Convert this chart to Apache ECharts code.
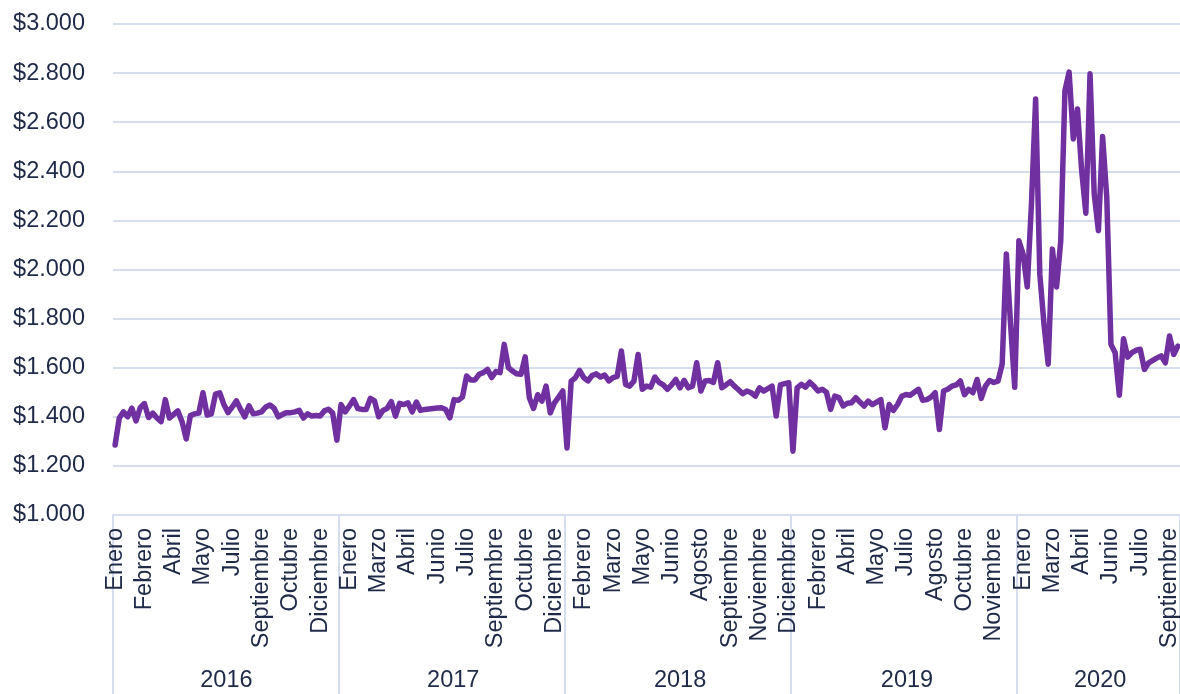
<!DOCTYPE html>
<html>
<head>
<meta charset="utf-8"/>
<title>Precio semanal</title>
<script src="https://cdn.jsdelivr.net/npm/echarts@6/dist/echarts.min.js"></script>
<style>
	* { padding: 0; margin: 0; }
	body { background: #fff; }
	#chart { width: 1180px; height: 694px; }
</style>
</head>
<body>
<div id="chart"></div>
<script>
// weekly values, one array per year
var v2016 = [1285,1395,1420,1400,1435,1383,1437,1454,1397,1415,
	1395,1380,1470,1395,1410,1424,1380,1310,1405,1412,
	1415,1498,1407,1412,1492,1498,1450,1417,1440,1465,
	1430,1400,1445,1412,1415,1420,1440,1448,1435,1400,
	1410,1417,1417,1420,1426,1395,1412,1403,1405,1403,
	1424,1431,1415,1305];
var v2017 = [1450,1420,1444,1470,1434,1430,1430,1475,1465,1400,
	1426,1434,1462,1403,1455,1450,1457,1420,1460,1426,
	1430,1432,1434,1436,1437,1430,1396,1470,1467,1480,
	1566,1550,1550,1573,1580,1593,1560,1584,1580,1695,
	1600,1586,1575,1573,1644,1478,1434,1490,1464,1525,
	1416,1457,1480,1505];
var v2018 = [1273,1545,1559,1589,1560,1546,1568,1575,1562,1570,
	1546,1560,1565,1668,1532,1525,1546,1654,1512,1525,
	1521,1562,1540,1530,1512,1530,1552,1518,1548,1518,
	1525,1620,1505,1546,1548,1540,1620,1518,1530,1543,
	1525,1510,1494,1505,1498,1484,1518,1505,1515,1525,
	1403,1530,1535,1539];
var v2019 = [1260,1518,1532,1521,1541,1525,1505,1512,1500,1430,
	1484,1478,1444,1455,1457,1478,1460,1444,1464,1450,
	1460,1470,1355,1450,1426,1450,1484,1491,1488,1500,
	1512,1467,1470,1480,1498,1348,1505,1512,1525,1530,
	1546,1490,1512,1498,1552,1475,1525,1548,1540,1545,
	1614,2063,1780,1520];
var v2020 = [2117,2063,1929,2267,2695,1981,1777,1614,2083,1929,
	2117,2729,2804,2532,2654,2403,2229,2797,2307,2158,
	2542,2294,1695,1661,1488,1718,1643,1661,1671,1675,
	1593,1620,1630,1640,1648,1620,1729,1654,1688];

var years = ['2016', '2017', '2018', '2019', '2020'];
// month shown under every 7th week
var monthLabels = ['Enero','Febrero','Abril','Mayo','Julio','Septiembre','Octubre','Diciembre',
	'Enero','Marzo','Abril','Junio','Julio','Septiembre','Octubre','Diciembre',
	'Febrero','Marzo','Mayo','Junio','Agosto','Septiembre','Noviembre','Diciembre',
	'Febrero','Abril','Mayo','Julio','Agosto','Octubre','Noviembre',
	'Enero','Marzo','Abril','Junio','Julio','Septiembre'];
var labelStep = 7;
var yTicks = [1000, 3000, 200];

var perYear = [v2016, v2017, v2018, v2019, v2020];
var values = [], cats = [], yearStart = {}, yearMid = {};
perYear.forEach(function (arr, y) {
	var start = values.length;
	yearStart[start] = true;
	yearMid[start + Math.floor(arr.length / 2)] = years[y];
	arr.forEach(function (v, k) {
		values.push(v);
		cats.push(years[y] + '-' + (k + 1));
	});
});

var txt = '#1f2a48';
var gridCol = '#d6ddee';
var font = 'Liberation Sans, Arial, sans-serif';
var fs = 23.5;

function money(v) {
	var s = String(v % 1000);
	while (s.length < 3) s = '0' + s;
	return '$' + Math.floor(v / 1000) + '.' + s;
}

var chart = echarts.init(document.getElementById('chart'));
chart.setOption({
	animation: false,
	grid: { left: 113, right: 0, top: 24, bottom: 179, containLabel: false, outerBoundsMode: 'none' },
	xAxis: [{
		type: 'category',
		data: cats,
		boundaryGap: true,
		axisLine: { show: true, lineStyle: { color: gridCol, width: 2 } },
		axisTick: {
			show: true, length: 179,
			interval: function (i) { return !!yearStart[i]; },
			lineStyle: { color: gridCol, width: 2 }
		},
		axisLabel: {
			interval: labelStep - 1,
			rotate: 90,
			margin: 13,
			color: txt, fontSize: fs, fontFamily: font,
			formatter: function (val, i) { return monthLabels[Math.round(i / labelStep)] || ''; }
		},
		splitLine: { show: false }
	}, {
		type: 'category',
		data: cats,
		position: 'bottom',
		offset: 150,
		boundaryGap: false,
		axisLine: { show: false },
		axisTick: { show: false },
		axisLabel: {
			interval: function (i) { return yearMid[i] !== undefined; },
			margin: 4,
			color: txt, fontSize: fs, fontFamily: font,
			formatter: function (val, i) { return yearMid[i] || ''; }
		},
		splitLine: { show: false }
	}],
	yAxis: {
		type: 'value',
		min: yTicks[0], max: yTicks[1], interval: yTicks[2],
		axisLine: { show: false },
		axisTick: { show: false },
		axisLabel: { color: txt, fontSize: fs, fontFamily: font, margin: 28, formatter: money },
		splitLine: { lineStyle: { color: gridCol, width: 2 } }
	},
	series: [{
		type: 'line',
		data: values,
		xAxisIndex: 0,
		symbol: 'none',
		lineStyle: { color: '#7030a0', width: 5.5, cap: 'round', join: 'round' }
	}]
});
</script>
</body>
</html>
